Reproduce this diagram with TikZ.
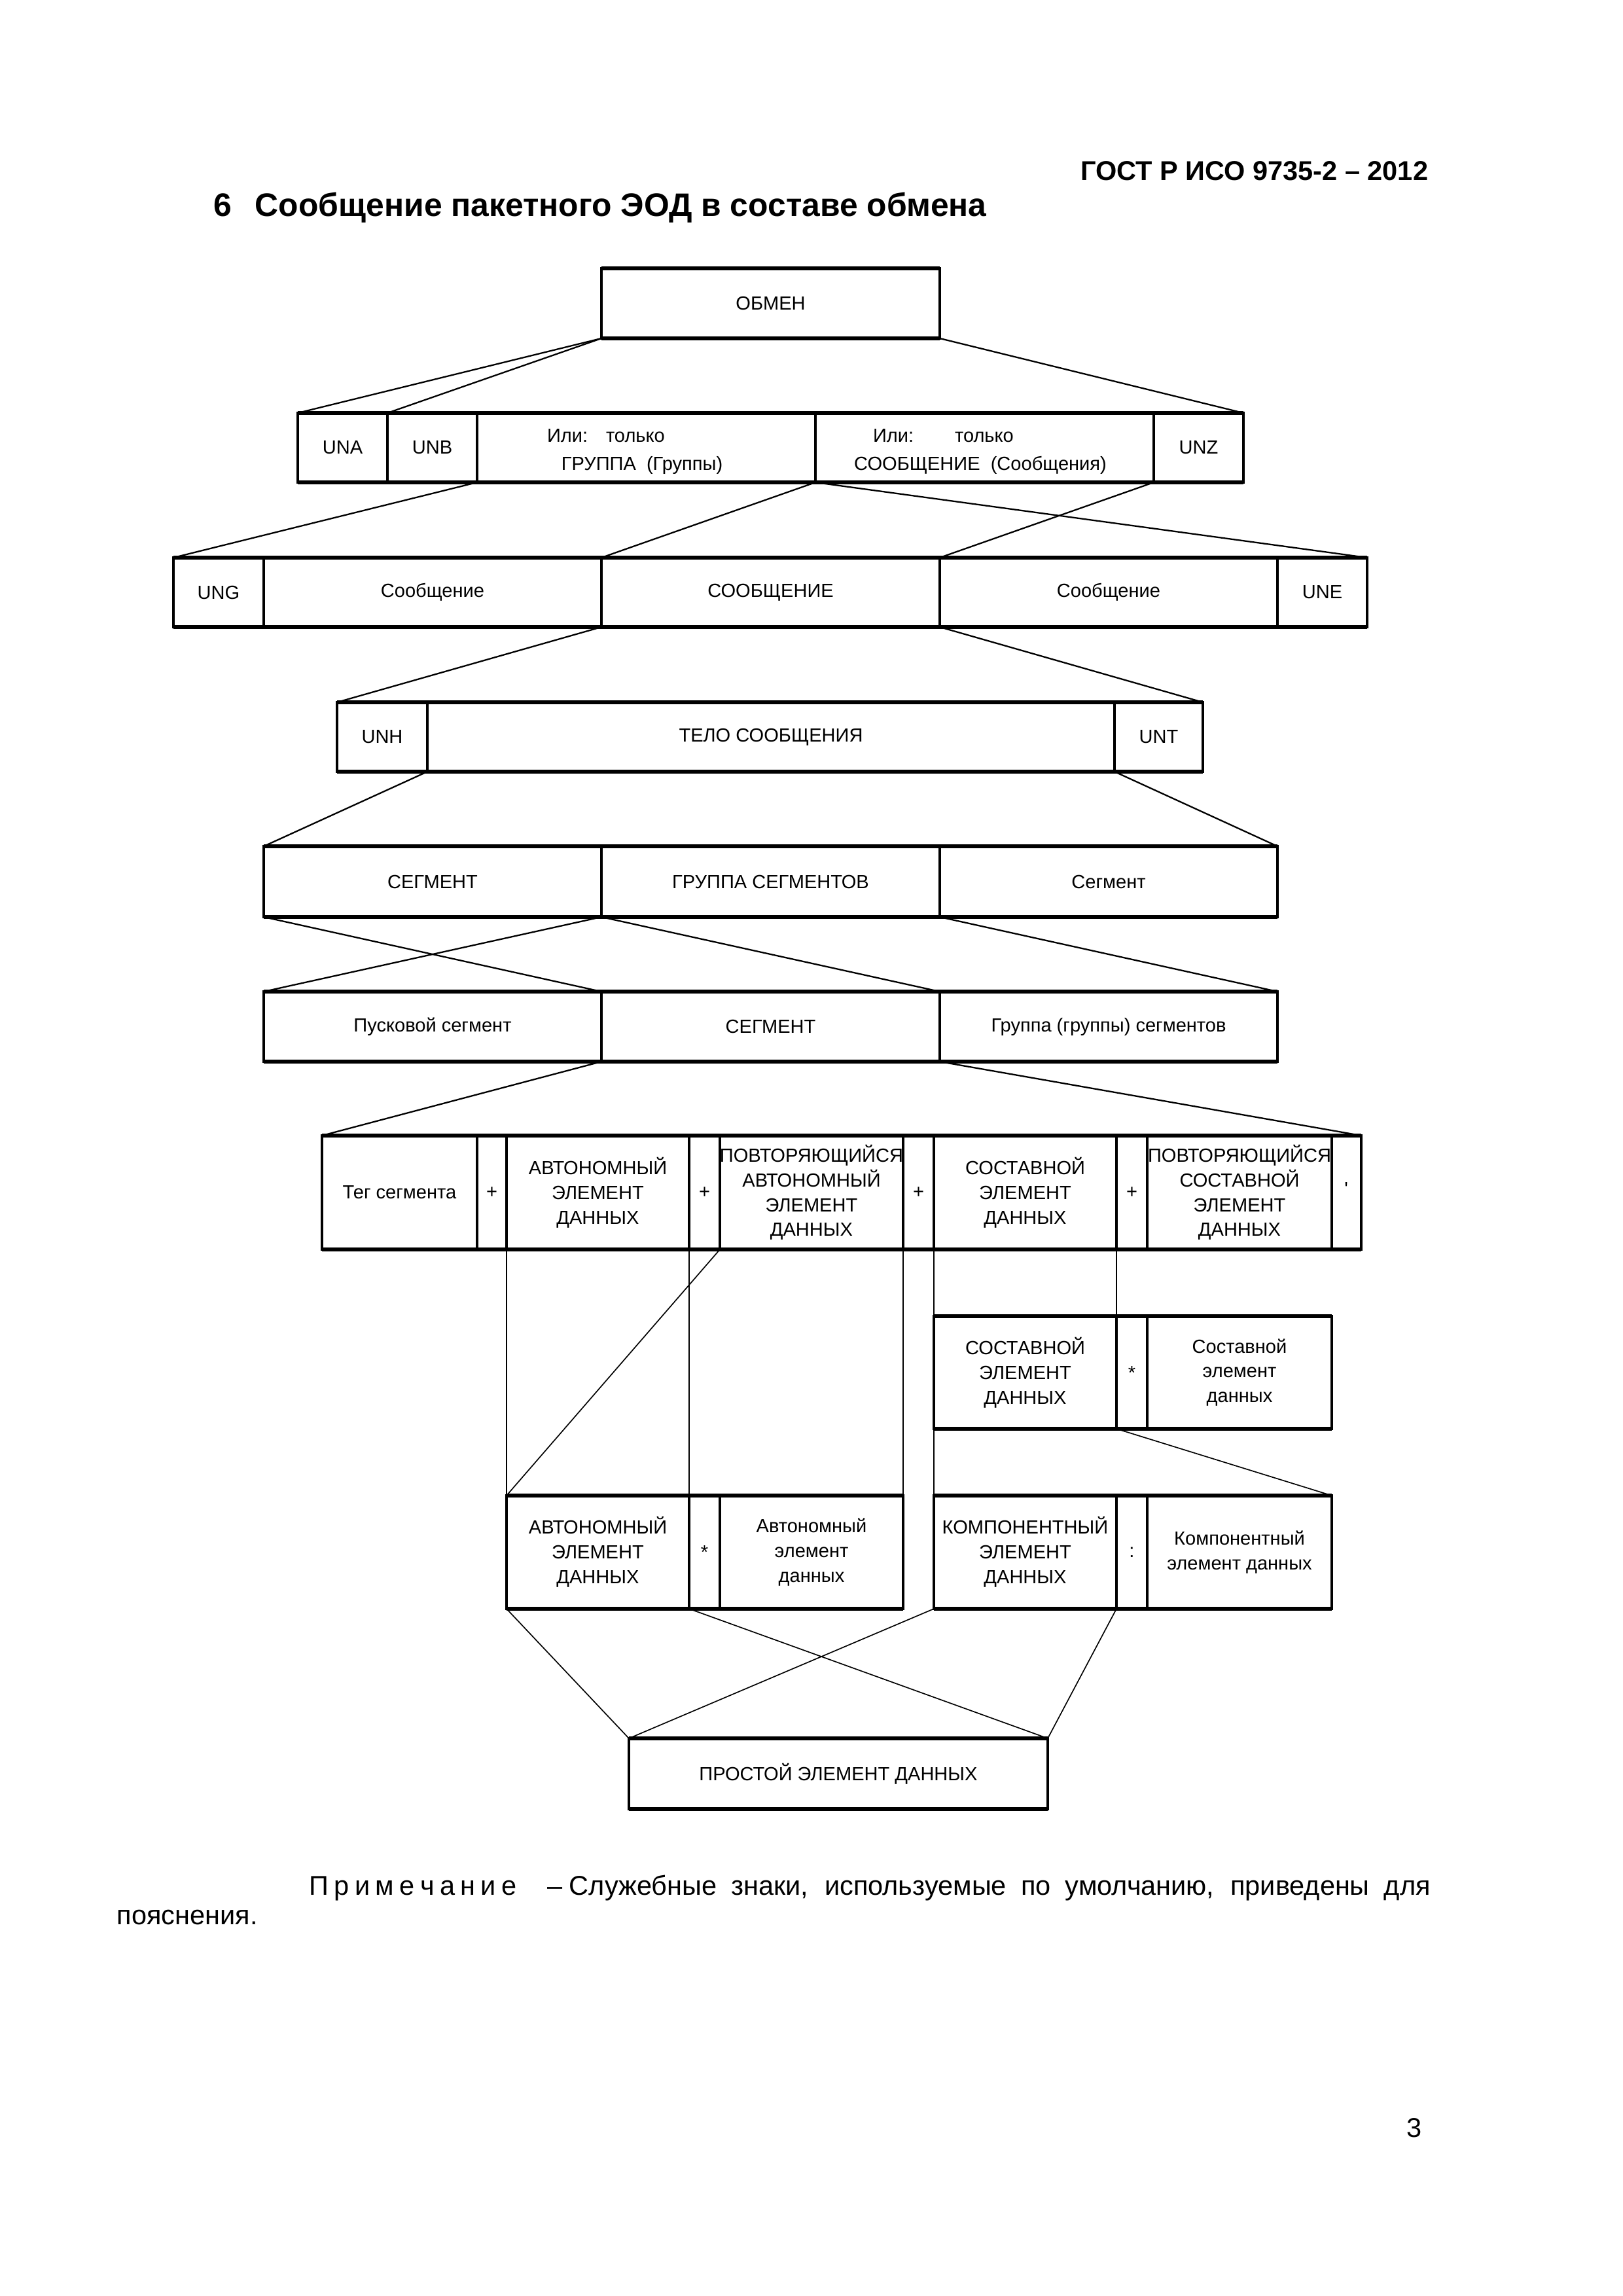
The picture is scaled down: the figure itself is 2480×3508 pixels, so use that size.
\documentclass[tikz,border=0pt]{standalone}
\usepackage{fontspec}
\setmainfont{Liberation Sans}
\usetikzlibrary{fit}
\newlength\pxu
\setlength\pxu{0.084677mm}
\newcommand\boxfont{\fontsize{7}{9.1}\selectfont}
\newcommand\ls{\kern2pt}
\tikzset{
  cell/.style={draw, line width=0.75pt, inner sep=0pt, outer sep=0pt},
  lbl/.style={inner sep=0pt, outer sep=0pt, font=\boxfont, align=center},
  frame/.style={line width=1pt},
  edge/.style={line width=1.3pt},
  link/.style={line width=0.55pt},
  vlink/.style={line width=0.4pt},
  note/.style={inner sep=0pt, font=\fontsize{10}{12}\selectfont},
}
\newcommand\cellbox[6]{%
  \node[cell, fit={(#2,#3) (#4,#5)}] (#1) {};
  \node[lbl] (#1-t) at (#1.center) {#6};}
\newcommand\rowframe[2]{%
  \draw[frame] (#1.north west) rectangle (#2.south east);
  \draw[edge] (#1.north west) -- (#2.north east) (#1.south west) -- (#2.south east);}
\begin{document}
\begin{tikzpicture}[x=0.084677mm, y=-0.084677mm]
\useasboundingbox (0,0) rectangle (2480,3508);
\fill[white] (0,0) rectangle (2480,3508);

% header and title
\node[inner sep=0pt, anchor=base east, font=\fontsize{10}{12}\selectfont\bfseries] (gost) at (2183,275) {ГОСТ Р ИСО 9735-2 – 2012};
\node[inner sep=0pt, anchor=base west, font=\fontsize{12}{14}\selectfont\bfseries] (title) at (326,330) {6\hspace{3mm}Сообщение пакетного ЭОД в составе обмена};

% level 1
\cellbox{obmen}{919}{410}{1436}{517}{ОБМЕН}
\rowframe{obmen}{obmen}

% level 2
\cellbox{una}{455}{631}{592}{737}{UNA}
\cellbox{unb}{592}{631}{729}{737}{UNB}
\cellbox{grp}{729}{631}{1246}{737}{}
\cellbox{soob}{1246}{631}{1763}{737}{}
\cellbox{unz}{1763}{631}{1900}{737}{UNZ}
\rowframe{una}{unz}
\node[lbl, anchor=base west] (grp-a) at (836,675) {Или:};
\node[lbl, anchor=base west] (grp-b) at (926,675) {только};
\node[lbl, anchor=base] (grp-c) at (981,718) {ГРУППА\ \ (Группы)};
\node[lbl, anchor=base west] (soob-a) at (1334,675) {Или:};
\node[lbl, anchor=base west] (soob-b) at (1459,675) {только};
\node[lbl, anchor=base] (soob-c) at (1498,718) {СООБЩЕНИЕ\ \ (Сообщения)};

% level 3
\cellbox{ung}{265}{852}{403}{958}{UNG}
\cellbox{msgA}{403}{852}{919}{958}{Сообщение}
\cellbox{MSG}{919}{852}{1436}{958}{СООБЩЕНИЕ}
\cellbox{msgB}{1436}{852}{1952}{958}{Сообщение}
\cellbox{une}{1952}{852}{2089}{958}{UNE}
\rowframe{ung}{une}

% level 4
\cellbox{unh}{515}{1073}{653}{1179}{UNH}
\cellbox{body}{653}{1073}{1703}{1179}{ТЕЛО СООБЩЕНИЯ}
\cellbox{unt}{1703}{1073}{1838}{1179}{UNT}
\rowframe{unh}{unt}

% level 5
\cellbox{seg}{403}{1293}{919}{1401}{СЕГМЕНТ}
\cellbox{grs}{919}{1293}{1436}{1401}{ГРУППА СЕГМЕНТОВ}
\cellbox{segc}{1436}{1293}{1952}{1401}{Сегмент}
\rowframe{seg}{segc}

% level 6
\cellbox{pusk}{403}{1515}{919}{1622}{Пусковой сегмент}
\cellbox{SEG}{919}{1515}{1436}{1622}{СЕГМЕНТ}
\cellbox{gseg}{1436}{1515}{1952}{1622}{Группа (группы) сегментов}
\rowframe{pusk}{gseg}

% level 7
\cellbox{teg}{492}{1735}{729}{1909}{Тег сегмента}
\cellbox{p1}{729}{1735}{774}{1909}{+}
\cellbox{avt}{774}{1735}{1053}{1909}{АВТОНОМНЫЙ\\ЭЛЕМЕНТ\\ДАННЫХ}
\cellbox{p2}{1053}{1735}{1100}{1909}{+}
\cellbox{povt}{1100}{1735}{1380}{1909}{ПОВТОРЯЮЩИЙСЯ\\АВТОНОМНЫЙ\\ЭЛЕМЕНТ\\ДАННЫХ}
\cellbox{p3}{1380}{1735}{1427}{1909}{+}
\cellbox{sost}{1427}{1735}{1706}{1909}{СОСТАВНОЙ\\ЭЛЕМЕНТ\\ДАННЫХ}
\cellbox{p4}{1706}{1735}{1753}{1909}{+}
\cellbox{povs}{1753}{1735}{2035}{1909}{ПОВТОРЯЮЩИЙСЯ\\СОСТАВНОЙ\\ЭЛЕМЕНТ\\ДАННЫХ}
\cellbox{apos}{2035}{1735}{2080}{1909}{}
\node[lbl, anchor=north] (apos-m) at (2057,1806) {\textquotesingle};
\rowframe{teg}{apos}

% level 8
\cellbox{sost2}{1427}{2011}{1706}{2183}{СОСТАВНОЙ\\ЭЛЕМЕНТ\\ДАННЫХ}
\cellbox{st}{1706}{2011}{1753}{2183}{*}
\cellbox{sostl}{1753}{2011}{2035}{2183}{Составной\\элемент\\данных}
\rowframe{sost2}{sostl}

% level 9
\cellbox{avt2}{774}{2285}{1053}{2458}{АВТОНОМНЫЙ\\ЭЛЕМЕНТ\\ДАННЫХ}
\cellbox{st2}{1053}{2285}{1100}{2458}{*}
\cellbox{avtl}{1100}{2285}{1380}{2458}{Автономный\\элемент\\данных}
\rowframe{avt2}{avtl}
\cellbox{komp}{1427}{2285}{1706}{2458}{КОМПОНЕНТНЫЙ\\ЭЛЕМЕНТ\\ДАННЫХ}
\cellbox{col}{1706}{2285}{1753}{2458}{:}
\cellbox{kompl}{1753}{2285}{2035}{2458}{Компонентный\\элемент данных}
\rowframe{komp}{kompl}

% level 10
\cellbox{prost}{961}{2656}{1601}{2764}{ПРОСТОЙ ЭЛЕМЕНТ ДАННЫХ}
\rowframe{prost}{prost}

% connectors
\draw[link] (obmen.south west) -- (una.north west);
\draw[link] (obmen.south west) -- (unb.north west);
\draw[link] (obmen.south east) -- (unz.north east);
\draw[link] (grp.south west) -- (ung.north west);
\draw[link] (grp.south east) -- (msgA.north east);
\draw[link] (grp.south east) -- (une.north east);
\draw[link] (soob.south east) -- (MSG.north east);
\draw[link] (MSG.south west) -- (unh.north west);
\draw[link] (MSG.south east) -- (unt.north east);
\draw[link] (unh.south east) -- (seg.north west);
\draw[link] (unt.south west) -- (segc.north east);
\draw[link] (seg.south west) -- (pusk.north east);
\draw[link] (seg.south east) -- (pusk.north west);
\draw[link] (seg.south east) -- (SEG.north east);
\draw[link] (grs.south east) -- (gseg.north east);
\draw[link] (SEG.south west) -- (teg.north west);
\draw[link] (SEG.south east) -- (apos.north east);
\draw[vlink] (avt.south west) -- (avt2.north west);
\draw[vlink] (avt.south east) -- (avt2.north east);
\draw[vlink] (povt.south west) -- (avt2.north west);
\draw[vlink] (povt.south east) -- (avtl.north east);
\draw[vlink] (sost.south west) -- (sost2.north west);
\draw[vlink] (sost.south east) -- (sost2.north east);
\draw[vlink] (sost2.south west) -- (komp.north west);
\draw[vlink] (sost2.south east) -- (kompl.north east);
\draw[vlink] (avt2.south west) -- (prost.north west);
\draw[vlink] (avt2.south east) -- (prost.north east);
\draw[vlink] (komp.south west) -- (prost.north west);
\draw[vlink] (komp.south east) -- (prost.north east);

% note
\node[note, anchor=base west] (note1) at (472,2895) {\makebox[1713\pxu][s]{\mbox{П\ls р\ls и\ls м\ls е\ls ч\ls а\ls н\ls и\ls е}\hspace{4mm}–\kern2.5pt Служебные знаки, используемые по умолчанию, приведены для}};
\node[note, anchor=base west] (note2) at (178,2940) {пояснения.};
\node[note, anchor=base east] (pnum) at (2173,3265) {3};
\end{tikzpicture}
\end{document}
